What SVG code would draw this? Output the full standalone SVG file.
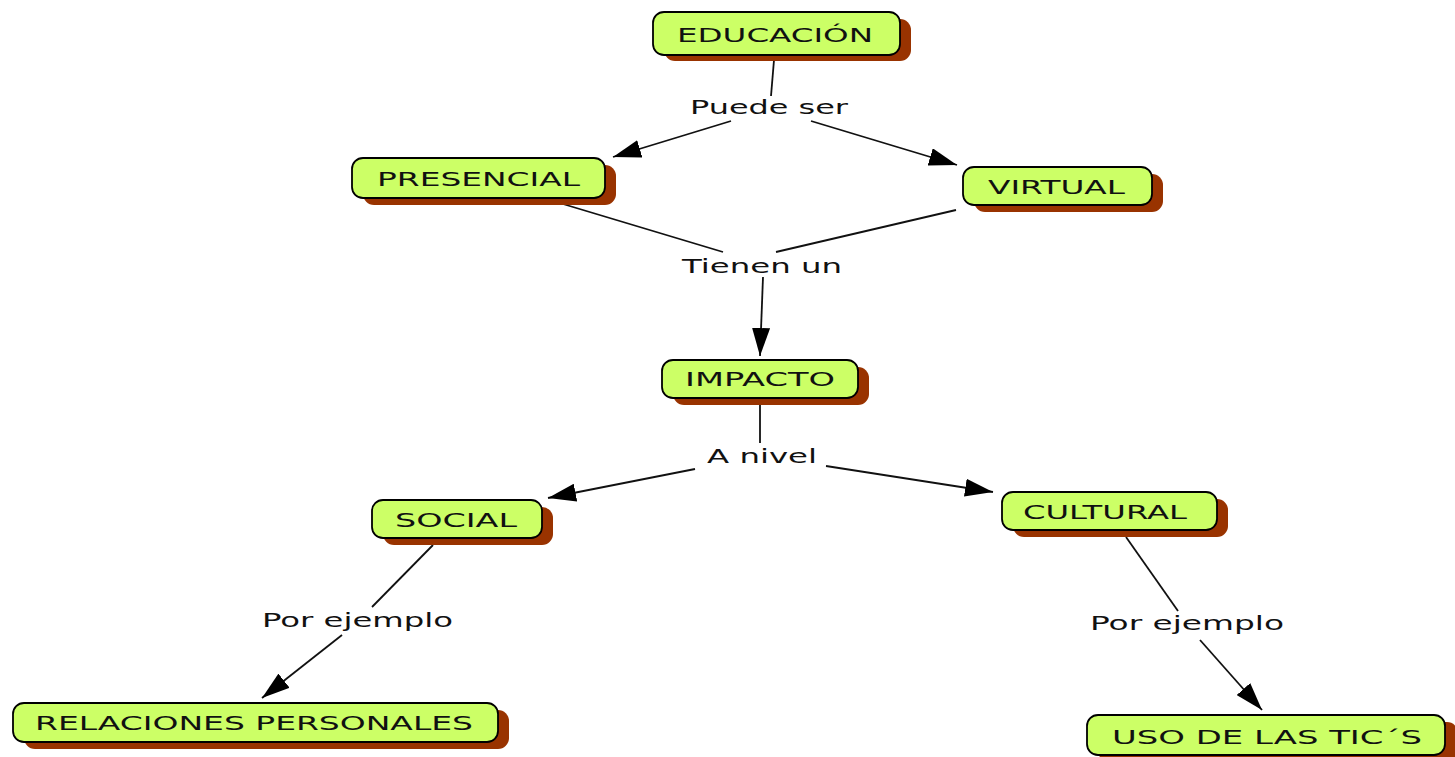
<svg xmlns="http://www.w3.org/2000/svg" width="1455" height="757" viewBox="0 0 1455 757">
<defs>
<style>
.sh{fill:#993300}
.bx{fill:#ccff66;stroke:#000;stroke-width:1.8}
.nt{font-family:"DejaVu Sans","Liberation Sans",sans-serif;font-size:20px;fill:#111}
.lt{font-family:"DejaVu Sans","Liberation Sans",sans-serif;font-size:20px;fill:#111}
.ln{stroke:#111;stroke-width:1.8;fill:none}
</style>
<marker id="ah" viewBox="0 0 28 18" refX="28" refY="9" markerWidth="28" markerHeight="18" markerUnits="userSpaceOnUse" orient="auto">
<path d="M0,0 L28,9 L0,18 z" fill="#000"/>
</marker>
</defs>
<rect width="1455" height="757" fill="#fff"/>
<g id="connectors">
<line class="ln" x1="774" y1="60" x2="771" y2="96"/>
<line class="ln" x1="731" y1="121" x2="613" y2="157" marker-end="url(#ah)"/>
<line class="ln" x1="811" y1="121" x2="957" y2="165" marker-end="url(#ah)"/>
<line class="ln" x1="563" y1="204" x2="723" y2="252"/>
<line class="ln" x1="956" y1="210" x2="776" y2="252"/>
<line class="ln" x1="763" y1="277" x2="760" y2="356" marker-end="url(#ah)"/>
<line class="ln" x1="760" y1="404" x2="760" y2="443"/>
<line class="ln" x1="695" y1="469" x2="548" y2="498" marker-end="url(#ah)"/>
<line class="ln" x1="826" y1="466" x2="993" y2="492" marker-end="url(#ah)"/>
<line class="ln" x1="433" y1="545" x2="372" y2="607"/>
<line class="ln" x1="342" y1="635" x2="262" y2="698" marker-end="url(#ah)"/>
<line class="ln" x1="1126" y1="537" x2="1178" y2="611"/>
<line class="ln" x1="1200" y1="640" x2="1262" y2="710" marker-end="url(#ah)"/>
<text class="lt" x="690" y="114" textLength="158" lengthAdjust="spacingAndGlyphs">Puede ser</text>
<text class="lt" x="682" y="273" textLength="160" lengthAdjust="spacingAndGlyphs">Tienen un</text>
<text class="lt" x="707" y="463" textLength="110" lengthAdjust="spacingAndGlyphs">A nivel</text>
<text class="lt" x="262" y="627" textLength="191" lengthAdjust="spacingAndGlyphs">Por ejemplo</text>
<text class="lt" x="1090" y="630" textLength="194" lengthAdjust="spacingAndGlyphs">Por ejemplo</text>
</g>
<g id="n-educacion">
<rect class="sh" x="664" y="19" width="247" height="42" rx="11"/>
<rect class="bx" x="653" y="12" width="247" height="43" rx="11"/>
<text class="nt" x="677" y="42" textLength="196" lengthAdjust="spacingAndGlyphs">EDUCACIÓN</text>
</g>
<g id="n-presencial">
<rect class="sh" x="363" y="165" width="253" height="40" rx="11"/>
<rect class="bx" x="352" y="158" width="253" height="40" rx="11"/>
<text class="nt" x="377" y="186" textLength="203" lengthAdjust="spacingAndGlyphs">PRESENCIAL</text>
</g>
<g id="n-virtual">
<rect class="sh" x="974" y="174" width="189" height="38" rx="11"/>
<rect class="bx" x="963" y="167" width="189" height="38" rx="11"/>
<text class="nt" x="988" y="194" textLength="137" lengthAdjust="spacingAndGlyphs">VIRTUAL</text>
</g>
<g id="n-impacto">
<rect class="sh" x="673" y="367" width="196" height="38" rx="11"/>
<rect class="bx" x="662" y="360" width="196" height="38" rx="11"/>
<text class="nt" x="685" y="386" textLength="150" lengthAdjust="spacingAndGlyphs">IMPACTO</text>
</g>
<g id="n-social">
<rect class="sh" x="383" y="507" width="170" height="38" rx="11"/>
<rect class="bx" x="372" y="500" width="170" height="38" rx="11"/>
<text class="nt" x="395" y="527" textLength="122" lengthAdjust="spacingAndGlyphs">SOCIAL</text>
</g>
<g id="n-cultural">
<rect class="sh" x="1013" y="499" width="215" height="38" rx="11"/>
<rect class="bx" x="1002" y="492" width="215" height="38" rx="11"/>
<text class="nt" x="1023" y="519" textLength="164" lengthAdjust="spacingAndGlyphs">CULTURAL</text>
</g>
<g id="n-relaciones">
<rect class="sh" x="24" y="710" width="485" height="39" rx="11"/>
<rect class="bx" x="13" y="703" width="485" height="39" rx="11"/>
<text class="nt" x="35" y="730" textLength="438" lengthAdjust="spacingAndGlyphs">RELACIONES PERSONALES</text>
</g>
<g id="n-uso">
<rect class="sh" x="1098" y="722" width="360" height="40" rx="11"/>
<rect class="bx" x="1087" y="715" width="358" height="40" rx="11"/>
<text class="nt" x="1112" y="744" textLength="310" lengthAdjust="spacingAndGlyphs">USO DE LAS TIC´S</text>
</g>
</svg>
